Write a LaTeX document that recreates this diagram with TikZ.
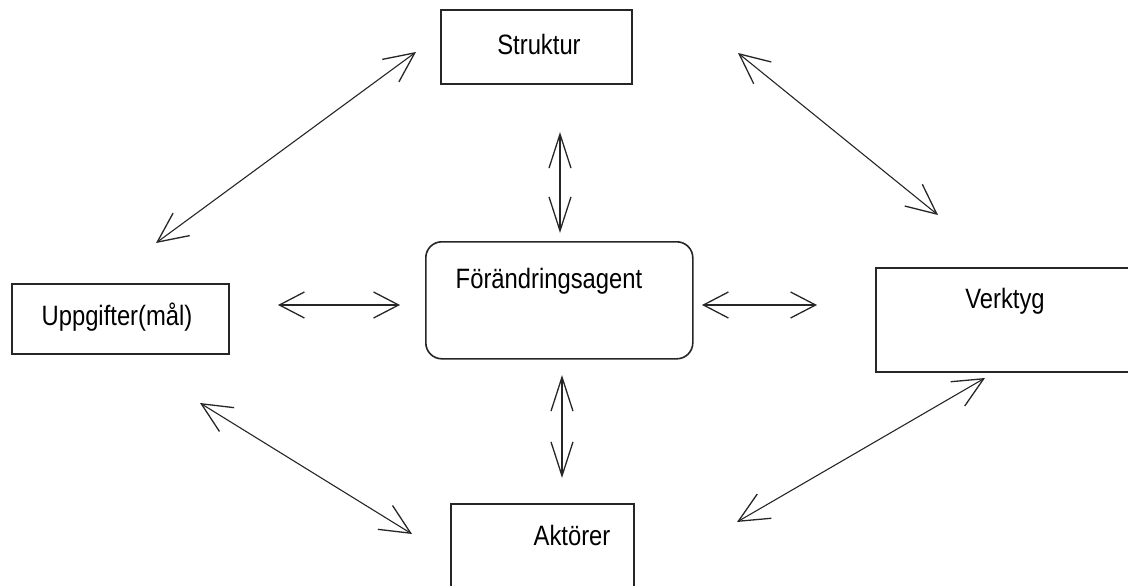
\documentclass[tikz,border=0pt]{standalone}
\usepackage{fontspec}
\setmainfont{Liberation Sans}[FakeStretch=0.85]
\usetikzlibrary{arrows.meta}
\begin{document}
\begin{tikzpicture}[x=1pt,y=-1pt,
  box/.style={draw=black!85,line width=1.6pt,inner sep=0pt,anchor=north west},
  rbox/.style={box,rounded corners=16pt},
  lbl/.style={inner sep=0pt,anchor=base,font=\fontsize{28}{32}\selectfont},
  link/.style={draw=black!85,line width=1.1pt,
    {Straight Barb[length=30pt,width=28pt,line width=1.3pt]}-{Straight Barb[length=30pt,width=28pt,line width=1.3pt]}},
  vlink/.style={draw=black!85,line width=1.1pt,
    {Straight Barb[length=34pt,width=22pt,line width=1.3pt]}-{Straight Barb[length=34pt,width=22pt,line width=1.3pt]}},
  hlink/.style={draw=black!85,line width=1.1pt,
    {Straight Barb[length=25pt,width=26pt,line width=1.3pt]}-{Straight Barb[length=25pt,width=26pt,line width=1.3pt]}}
]
\useasboundingbox (0,0) rectangle (1128,586);
\clip (0,0) rectangle (1128,586);
% boxes
\node[box,minimum width=191pt,minimum height=74pt] (struktur) at (440,9) {};
\node[rbox,minimum width=267pt,minimum height=117pt] (agent) at (425,241) {};
\node[box,minimum width=217pt,minimum height=70pt] (uppg) at (11,283) {};
\node[box,minimum width=270pt,minimum height=104pt] (verktyg) at (875,267) {};
\node[box,minimum width=183pt,minimum height=90pt] (aktorer) at (450,503) {};
% texts
\node[lbl] (tstruktur) at (539,55) {Struktur};
\node[lbl] (tagent) at (549,288) {Förändringsagent};
\node[lbl] (tuppg) at (117,325) {Uppgifter(mål)};
\node[lbl] (tverktyg) at (1005,308) {Verktyg};
\node[lbl] (taktorer) at (572,545) {Aktörer};
% arrow end points
\coordinate (a1s) at (156,243); \coordinate (a1e) at (416,52);
\coordinate (a2s) at (738,53);  \coordinate (a2e) at (938,215);
\coordinate (a3s) at (560,132); \coordinate (a3e) at (560,233);
\coordinate (a4s) at (278,305); \coordinate (a4e) at (400,305);
\coordinate (a5s) at (702,305); \coordinate (a5e) at (817,305);
\coordinate (a6s) at (562,375); \coordinate (a6e) at (562,478);
\coordinate (a7s) at (200,403); \coordinate (a7e) at (412,534);
\coordinate (a8s) at (985,378); \coordinate (a8e) at (737,522);
% arrows
\draw[link] (a1s) -- (a1e);
\draw[link] (a2s) -- (a2e);
\draw[vlink] (a3s) -- (a3e);
\draw[hlink] (a4s) -- (a4e);
\draw[hlink] (a5s) -- (a5e);
\draw[vlink] (a6s) -- (a6e);
\draw[link] (a7s) -- (a7e);
\draw[link] (a8s) -- (a8e);
\end{tikzpicture}
\end{document}
